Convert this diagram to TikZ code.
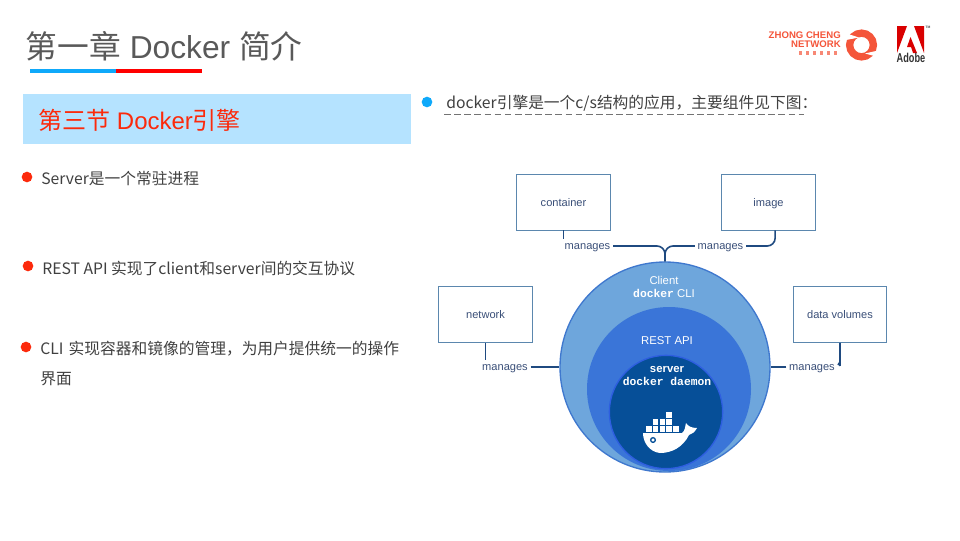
\documentclass[tikz,border=0pt]{standalone}
\usepackage{fontspec}
\usepackage{xcolor}
\usepackage{tikz}
\usetikzlibrary{positioning}
\setmainfont{Liberation Sans}
\setmonofont{Liberation Mono}
\newfontfamily\cjk{Noto Sans CJK SC}
\definecolor{titlegray}{HTML}{595959}
\definecolor{skyblue}{HTML}{0FA9FA}
\definecolor{bandblue}{HTML}{B5E3FF}
\definecolor{hotred}{HTML}{FC2A0C}
\definecolor{logored}{HTML}{F4553A}
\definecolor{boxline}{HTML}{5B87AE}
\definecolor{linkblue}{HTML}{1F4A80}
\definecolor{labelblue}{HTML}{3A4F78}
\definecolor{clientblue}{HTML}{6EA6DC}
\definecolor{restblue}{HTML}{3A75D8}
\definecolor{serverblue}{HTML}{064F98}
\definecolor{ringblue}{HTML}{3F78CE}
\tikzset{
  bullettext/.style={anchor=west, inner sep=0pt, font=\cjk\fontsize{11.8}{15}\selectfont, text=black!75},
  dot/.style={circle, inner sep=0pt, minimum size=8pt, fill=hotred},
  mgrbox/.style={draw=boxline, fill=white, line width=0.7pt, minimum width=70pt, minimum height=42pt,
      font=\fontsize{8.3}{10}\selectfont, text=labelblue, text height=1.5ex, text depth=.3ex},
  mgrlabel/.style={inner sep=2pt, font=\fontsize{8.3}{10}\selectfont, text=labelblue, text height=1.1ex, text depth=0pt},
  link/.style={draw=linkblue, line width=1.2pt, rounded corners=6pt},
  whitelabel/.style={inner sep=0pt, text=white, align=center, font=\fontsize{8.5}{9.6}\selectfont},
  crate/.style={fill=white, minimum size=4.1pt, inner sep=0pt}
}
\begin{document}
\begin{tikzpicture}[x=0.75pt, y=-0.75pt]
  \useasboundingbox (0,0) rectangle (960,540);

  % Titel
  \node[anchor=west, inner sep=0pt, text=titlegray, font=\fontsize{23.8}{30}\selectfont] (title) at (25.5,46)
    {{\cjk 第一章} Docker {\cjk 简介}};
  \fill[skyblue] (30,69) rectangle (116,72.5);
  \fill[red] (116,69) rectangle (202,72.5);
  \node[anchor=north west, minimum width=290.5pt, minimum height=37.5pt, inner sep=0pt, fill=bandblue] (band) at (23,94) {};
  \node[anchor=west, inner sep=0pt, text=hotred, font=\fontsize{18}{20}\selectfont] (section) at (38,120)
    {{\cjk 第三节} Docker{\cjk 引擎}};

  % Logos
  \node[anchor=east, inner sep=0pt, align=right, text=logored, font=\bfseries\fontsize{7.2}{7.2}\selectfont] (zhong) at (841,39.5)
    {ZHONG CHENG\\NETWORK};
  \foreach \tx in {799,806,813,820,827,834}
    \fill[logored!70] (\tx,51) rectangle ++(2.5,4);
  \draw[logored, line width=5.5pt] (861.5,45) circle (8.9pt);
  \fill[white] (845,33) -- (859,37.5) -- (846,40) -- cycle;
  \fill[white] (878,57) -- (865,53.5) -- (878,50.5) -- cycle;
  \fill[red!85!black] (897,26) -- (907,26) -- (897,53) -- cycle;
  \fill[red!85!black] (914,26) -- (924,26) -- (924,53) -- cycle;
  \fill[red!85!black] (910.5,37) -- (917,53) -- (913,53) -- (911,47) -- (907,47) -- cycle;
  \node[inner sep=0pt, text=black!80, xscale=.82, yscale=1.15, font=\bfseries\fontsize{8.4}{9}\selectfont] (adobe) at (911,58) {Adobe};
  \node[inner sep=0pt, text=black!70, font=\bfseries\fontsize{2.5}{3}\selectfont] (tmark) at (928,27) {TM};

  % Listen
  \node[dot] (dota) at (27,177) {};
  \node[bullettext] (texta) at (41,179) {Server是一个常驻进程};
  \node[dot] (dotb) at (28,266) {};
  \node[bullettext] (textb) at (42,268) {REST API 实现了client和server间的交互协议};
  \node[dot] (dotc) at (26,347) {};
  \node[bullettext, text width=276pt, align=left, font=\cjk\fontsize{11.8}{22.5}\selectfont, anchor=north west] (textc) at (40,341)
    {CLI 实现容器和镜像的管理，为用户提供统一的操作\\界面};
  \node[dot, fill=skyblue] (dotd) at (427,102) {};
  \node[bullettext] (textd) at (446,103) {docker引擎是一个c/s结构的应用，主要组件见下图：};
  \draw[black!55, line width=0.6pt, dash pattern=on 5pt off 2.6pt] (444,114) -- (804,114);

  % Kreise
  \node[circle, draw=ringblue, fill=clientblue, line width=1pt, minimum size=157.5pt, inner sep=0pt] (client) at (665,367) {};
  \node[circle, fill=restblue, minimum size=123pt, inner sep=0pt] (rest) at (669,389) {};
  \node[circle, draw=restblue!80!blue, fill=serverblue, line width=1pt, minimum size=85pt, inner sep=0pt] (server) at (666,412) {};
  \node[whitelabel] (clientlabel) at (664,287) {Client\\{\ttfamily\bfseries docker} CLI};
  \node[whitelabel] (restlabel) at (667,341) {REST API};
  \node[whitelabel] (serverlabel) at (667,376) {{\bfseries server}\\{\ttfamily\bfseries docker daemon}};

  % Wal
  \fill[white] (643,433) -- (682,433) .. controls (685,431) and (685,427) .. (686,423)
    .. controls (688,426) and (691,428) .. (697,428) .. controls (695,432) and (692,434) .. (689,435)
    .. controls (683,447) and (672,453) .. (660,453) .. controls (650,452) and (643,443) .. (643,433) -- cycle;
  \foreach \cx/\cy in {649/429,655.7/429,662.4/429,669.1/429,675.8/429,655.7/422,662.4/422,669.1/422,669.1/415}
    \node[crate] at (\cx,\cy) {};
  \node[circle, draw=serverblue, fill=white, line width=1pt, minimum size=3.5pt, inner sep=0pt] (eye) at (653,440) {};

  % Boxen
  \node[mgrbox] (container) at (563.5,202) {container};
  \node[mgrbox] (image) at (768.5,202) {image};
  \node[mgrbox] (network) at (485.5,314.5) {network};
  \node[mgrbox] (volumes) at (840,314.5) {data volumes};

  % manages
  \node[mgrlabel] (mgra) at (587.5,246) {manages};
  \node[mgrlabel] (mgrb) at (720.5,246) {manages};
  \node[mgrlabel] (mgrc) at (505,367) {manages};
  \node[mgrlabel] (mgrd) at (812,367) {manages};
  \coordinate (imgdrop) at ([xshift=5pt]image.south);
  \coordinate (volend) at (838,365);

  \draw[link, line width=0.9pt] (container.south) -- (mgra.north -| container.south);
  \draw[link] (mgra.east) -- (mgra.east -| client.north) -- (client.north);
  \draw[link] (mgrb.west) -- (mgrb.west -| client.north) -- (client.north);
  \draw[link] (mgrb.east) -- (imgdrop |- mgrb.east) -- (imgdrop);
  \draw[link] (network.south) -- (network.south |- mgrc.north);
  \draw[link] (mgrc.east) -- (client.west);
  \draw[link] (mgrd.west) -- (client.east);
  \draw[link] (volumes.south) -- ++(0,15) .. controls ++(0,3) and ++(1,-2) .. (volend);
\end{tikzpicture}
\end{document}
